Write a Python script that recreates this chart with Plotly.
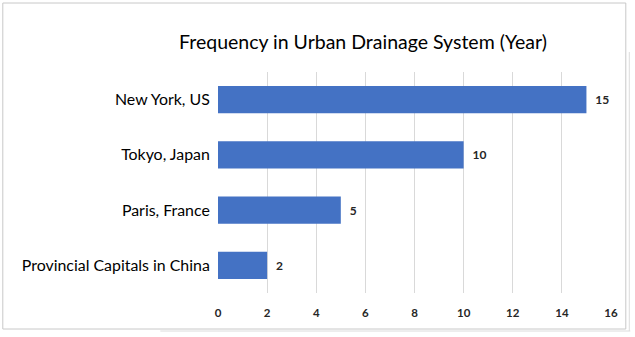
import plotly.graph_objects as go

categories = ["Provincial Capitals in China", "Paris, France", "Tokyo, Japan", "New York, US"]
values = [2, 5, 10, 15]
x_ticks = [0, 2, 4, 6, 8, 10, 12, 14, 16]
title_text = "Frequency in Urban Drainage System (Year)"

fig = go.Figure()
fig.add_trace(go.Bar(
    y=categories, x=values, orientation="h",
    marker=dict(color="#4472C4", line=dict(width=0)),
    width=0.49,
    text=[str(v) for v in values],
    texttemplate="  %{text}",
    textposition="outside",
    textfont=dict(family="Lato", size=12, color="#262626", weight="bold"),
    cliponaxis=False,
))

L, R, T, B = 217.7, 24.3, 72, 44
W, H = 635, 337
pw, ph = W - L - R, H - T - B

def px(x):
    return (x - L) / pw

def py(y):
    return (H - B - y) / ph

fig.update_layout(
    width=W, height=H,
    margin=dict(l=L, r=R, t=T, b=B, autoexpand=False),
    paper_bgcolor="white", plot_bgcolor="white",
    showlegend=False,
    title=dict(text=title_text, xref="container", yref="container", x=363 / W, xanchor="center",
               y=1 - 42 / H, yanchor="middle",
               font=dict(family="Lato", size=19.5, color="#000000")),
    xaxis=dict(range=[0, 16], tickvals=x_ticks, showgrid=True, gridcolor="#d9d9d9", gridwidth=1,
               zeroline=False, showline=False, ticks="outside", ticklen=9, tickcolor="rgba(0,0,0,0)",
               tickfont=dict(family="Lato", size=11.5, color="#262626", weight="bold")),
    yaxis=dict(showgrid=False, zeroline=False, showline=False, ticks="outside", ticklen=4,
               tickcolor="rgba(0,0,0,0)",
               tickfont=dict(family="Lato", size=15.9, color="#000000")),
    bargap=0.51,
    shapes=[
        dict(type="rect", xref="paper", yref="paper", x0=px(2.5), x1=px(625.5), y0=py(329), y1=py(3),
             line=dict(color="#c8c8c8", width=1), fillcolor="rgba(0,0,0,0)"),
        dict(type="line", xref="paper", yref="paper", x0=px(160), x1=px(630), y0=py(331), y1=py(331),
             line=dict(color="#dcdcdc", width=1)),
        dict(type="line", xref="paper", yref="paper", x0=px(629), x1=px(629), y0=py(331), y1=py(52),
             line=dict(color="#dcdcdc", width=1)),
    ],
)

fig.write_html("out.html")
